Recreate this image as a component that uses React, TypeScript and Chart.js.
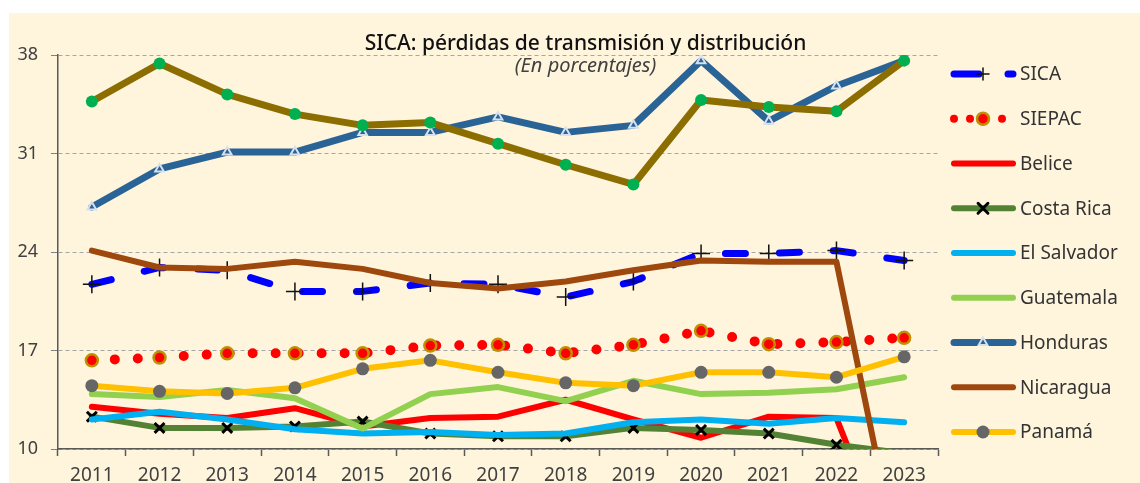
import React, { useEffect, useRef } from 'react';
import { Chart, registerables } from 'chart.js';
import { drawPoint } from 'chart.js/helpers';

Chart.register(...registerables);

const TITLE = 'SICA: pérdidas de transmisión y distribución';
const SUBTITLE = '(En porcentajes)';

const years = ['2011', '2012', '2013', '2014', '2015', '2016', '2017', '2018', '2019', '2020', '2021', '2022', '2023'];
const yTicks = [10, 17, 24, 31, 38];

const sica = [21.7, 22.9, 22.7, 21.2, 21.2, 21.8, 21.7, 20.8, 21.9, 23.9, 23.9, 24.1, 23.4];
const siepac = [16.3, 16.5, 16.8, 16.8, 16.8, 17.35, 17.4, 16.8, 17.4, 18.4, 17.45, 17.6, 17.9];
const belice = [13.0, 12.5, 12.2, 12.9, 11.6, 12.2, 12.3, 13.5, 12.1, 10.8, 12.3, 12.2, 0];
const costaRica = [12.3, 11.5, 11.5, 11.6, 11.95, 11.1, 10.9, 10.9, 11.5, 11.35, 11.1, 10.3, 9.7];
const elSalvador = [12.1, 12.65, 12.1, 11.4, 11.1, 11.2, 11.0, 11.1, 11.9, 12.1, 11.8, 12.2, 11.9];
const guatemala = [13.9, 13.7, 14.2, 13.6, 11.45, 13.9, 14.4, 13.4, 14.85, 13.9, 14.0, 14.25, 15.1];
const honduras = [27.2, 29.9, 31.1, 31.1, 32.5, 32.5, 33.6, 32.5, 33.0, 37.6, 33.3, 35.8, 37.6];
const nicaragua = [24.1, 22.9, 22.8, 23.3, 22.8, 21.8, 21.4, 21.9, 22.7, 23.4, 23.3, 23.3, 0];
const panama = [14.5, 14.1, 13.95, 14.35, 15.7, 16.3, 15.45, 14.7, 14.5, 15.45, 15.45, 15.1, 16.55];
const repDominicana = [34.7, 37.4, 35.2, 33.8, 33.0, 33.2, 31.7, 30.2, 28.8, 34.8, 34.3, 34.0, 37.6];

const FONT = '"Noto Sans", "Open Sans", sans-serif';
const Y_MIN = 10;
const Y_MAX = 38;

const titlePlugin = {
  id: 'customTitles',
  afterDraw(chart: any) {
    const ctx = chart.ctx;
    const cx = chart.width / 2 + 11;
    ctx.save();
    ctx.textAlign = 'center';
    ctx.textBaseline = 'alphabetic';
    ctx.fillStyle = '#111111';
    ctx.font = `500 21px ${FONT}`;
    ctx.fillText(TITLE, cx, 37);
    ctx.fillStyle = '#404040';
    ctx.font = `italic 20px ${FONT}`;
    ctx.fillText(SUBTITLE, cx, 59);
    ctx.restore();
  },
};

const legendPlugin = {
  id: 'customLegend',
  afterDraw(chart: any) {
    const ctx = chart.ctx;
    const x0 = 945;
    const x1 = 1004;
    const mx = 974;
    const tx = 1011;
    const y0 = 61;
    const dy = 44.75;
    let row = 0;
    chart.data.datasets.forEach((ds: any) => {
      if (ds.hideInLegend) return;
      const y = y0 + row * dy;
      row++;
      ctx.save();
      ctx.strokeStyle = ds.borderColor;
      ctx.lineWidth = ds.legendWidth || ds.borderWidth;
      ctx.lineCap = 'round';
      ctx.setLineDash(ds.legendDash || []);
      ctx.beginPath();
      ctx.moveTo(x0, y);
      ctx.lineTo(x1, y);
      ctx.stroke();
      ctx.setLineDash([]);
      if (ds.legendPointRadius > 0) {
        ctx.fillStyle = ds.pointBackgroundColor;
        ctx.strokeStyle = ds.pointBorderColor;
        ctx.lineWidth = ds.pointBorderWidth;
        drawPoint(
          ctx,
          { pointStyle: ds.pointStyle, radius: ds.legendPointRadius, borderWidth: ds.pointBorderWidth, rotation: 0 } as any,
          mx,
          y
        );
      }
      ctx.fillStyle = '#333333';
      ctx.font = `19px ${FONT}`;
      ctx.textAlign = 'left';
      ctx.textBaseline = 'middle';
      ctx.fillText(ds.label, tx, y + 1);
      ctx.restore();
    });
  },
};

// hide markers whose value falls outside the axis range (as the plot area clips them)
const inRangeRadius = (r: number) => (c: any) => {
  const v = c.raw;
  return typeof v === 'number' && v >= Y_MIN && v <= Y_MAX ? r : 0;
};

export default function App() {
  const canvasRef = useRef<HTMLCanvasElement | null>(null);

  useEffect(() => {
    if (!canvasRef.current) return;
    const base = { fill: false, tension: 0, clip: 0 as any, borderCapStyle: 'round' as const, borderJoinStyle: 'round' as const };
    const none = { pointRadius: 0, pointHoverRadius: 0, legendPointRadius: 0 };
    const list: any[] = [
      {
        ...base,
        label: 'SICA',
        data: sica,
        borderColor: '#0000FF',
        borderWidth: 7,
        borderDash: [20, 34],
        legendDash: [25, 29],
        pointStyle: 'cross',
        pointRadius: inRangeRadius(9),
        legendPointRadius: 6,
        pointBorderColor: '#111111',
        pointBackgroundColor: '#111111',
        pointBorderWidth: 1.5,
      },
      {
        ...base,
        label: 'SIEPAC',
        data: siepac,
        borderColor: '#FF0000',
        borderWidth: 10,
        borderDash: [0, 23],
        legendDash: [0, 16],
        legendWidth: 8,
        pointStyle: 'circle',
        pointRadius: inRangeRadius(6),
        legendPointRadius: 6,
        pointBorderColor: '#BF9000',
        pointBackgroundColor: '#FF0000',
        pointBorderWidth: 2.5,
      },
      { ...base, ...none, label: 'Belice', data: belice, borderColor: '#FF0000', borderWidth: 6 },
      {
        ...base,
        label: 'Costa Rica',
        data: costaRica,
        borderColor: '#548235',
        borderWidth: 6,
        pointStyle: 'crossRot',
        pointRadius: inRangeRadius(7),
        legendPointRadius: 7,
        pointBorderColor: '#000000',
        pointBackgroundColor: '#000000',
        pointBorderWidth: 3,
      },
      { ...base, ...none, label: 'El Salvador', data: elSalvador, borderColor: '#00B0F0', borderWidth: 6 },
      { ...base, ...none, label: 'Guatemala', data: guatemala, borderColor: '#92D050', borderWidth: 6 },
      {
        ...base,
        label: 'Honduras',
        data: honduras,
        borderColor: '#2A6496',
        borderWidth: 7,
        pointStyle: 'triangle',
        pointRadius: inRangeRadius(5),
        legendPointRadius: 5,
        pointBorderColor: '#D6E0F0',
        pointBackgroundColor: '#2A6496',
        pointBorderWidth: 2,
      },
      { ...base, ...none, label: 'Nicaragua', data: nicaragua, borderColor: '#9E480E', borderWidth: 6 },
      {
        ...base,
        label: 'Panamá',
        data: panama,
        borderColor: '#FFC000',
        borderWidth: 6,
        pointStyle: 'circle',
        pointRadius: inRangeRadius(6.5),
        legendPointRadius: 6.5,
        pointBorderColor: '#666666',
        pointBackgroundColor: '#666666',
        pointBorderWidth: 0,
      },
      {
        ...base,
        label: 'República Dominicana',
        hideInLegend: true,
        data: repDominicana,
        borderColor: '#8C6E00',
        borderWidth: 7,
        pointStyle: 'circle',
        pointRadius: inRangeRadius(6),
        legendPointRadius: 6,
        pointBorderColor: '#00B050',
        pointBackgroundColor: '#00B050',
        pointBorderWidth: 0,
      },
    ];
    const datasets = list.map((d, i) => ({ ...d, order: list.length - i }));

    const chart = new Chart(canvasRef.current, {
      type: 'line',
      data: { labels: years, datasets },
      options: {
        animation: false,
        responsive: false,
        events: [],
        layout: { padding: { top: 42, right: 202, left: 0, bottom: 0 } },
        plugins: {
          legend: { display: false },
          title: { display: false },
          tooltip: { enabled: false },
        },
        scales: {
          x: {
            type: 'category',
            offset: true,
            afterFit: (s: any) => {
              s.height = 34;
            },
            grid: {
              display: true,
              offset: true,
              drawOnChartArea: false,
              drawTicks: true,
              tickLength: 7,
              tickColor: '#595959',
              tickWidth: 1.5,
            },
            border: { display: true, color: '#595959', width: 1.5 },
            ticks: {
              color: '#404040',
              font: { family: FONT, size: 19 },
              padding: 8,
              maxRotation: 0,
              autoSkip: false,
            },
          },
          y: {
            min: Y_MIN,
            max: Y_MAX,
            afterFit: (s: any) => {
              s.width = 49;
            },
            afterBuildTicks: (s: any) => {
              s.ticks = yTicks.map((v) => ({ value: v }));
            },
            grid: {
              color: '#A6A6A6',
              lineWidth: 1,
              tickLength: 7,
              tickColor: '#808080',
              tickWidth: 1,
            },
            border: { display: true, color: '#595959', width: 1.5, dash: [4, 3] },
            ticks: {
              color: '#404040',
              font: { family: FONT, size: 18 },
              padding: 13,
            },
          },
        },
      },
      plugins: [titlePlugin, legendPlugin],
    });
    return () => chart.destroy();
  }, []);

  return (
    <div
      style={{
        position: 'absolute',
        left: 9,
        top: 13,
        width: 1131,
        height: 470,
        background: '#FFF5DD',
      }}
    >
      <canvas ref={canvasRef} width={1131} height={470} style={{ width: 1131, height: 470, display: 'block' }} />
    </div>
  );
}
